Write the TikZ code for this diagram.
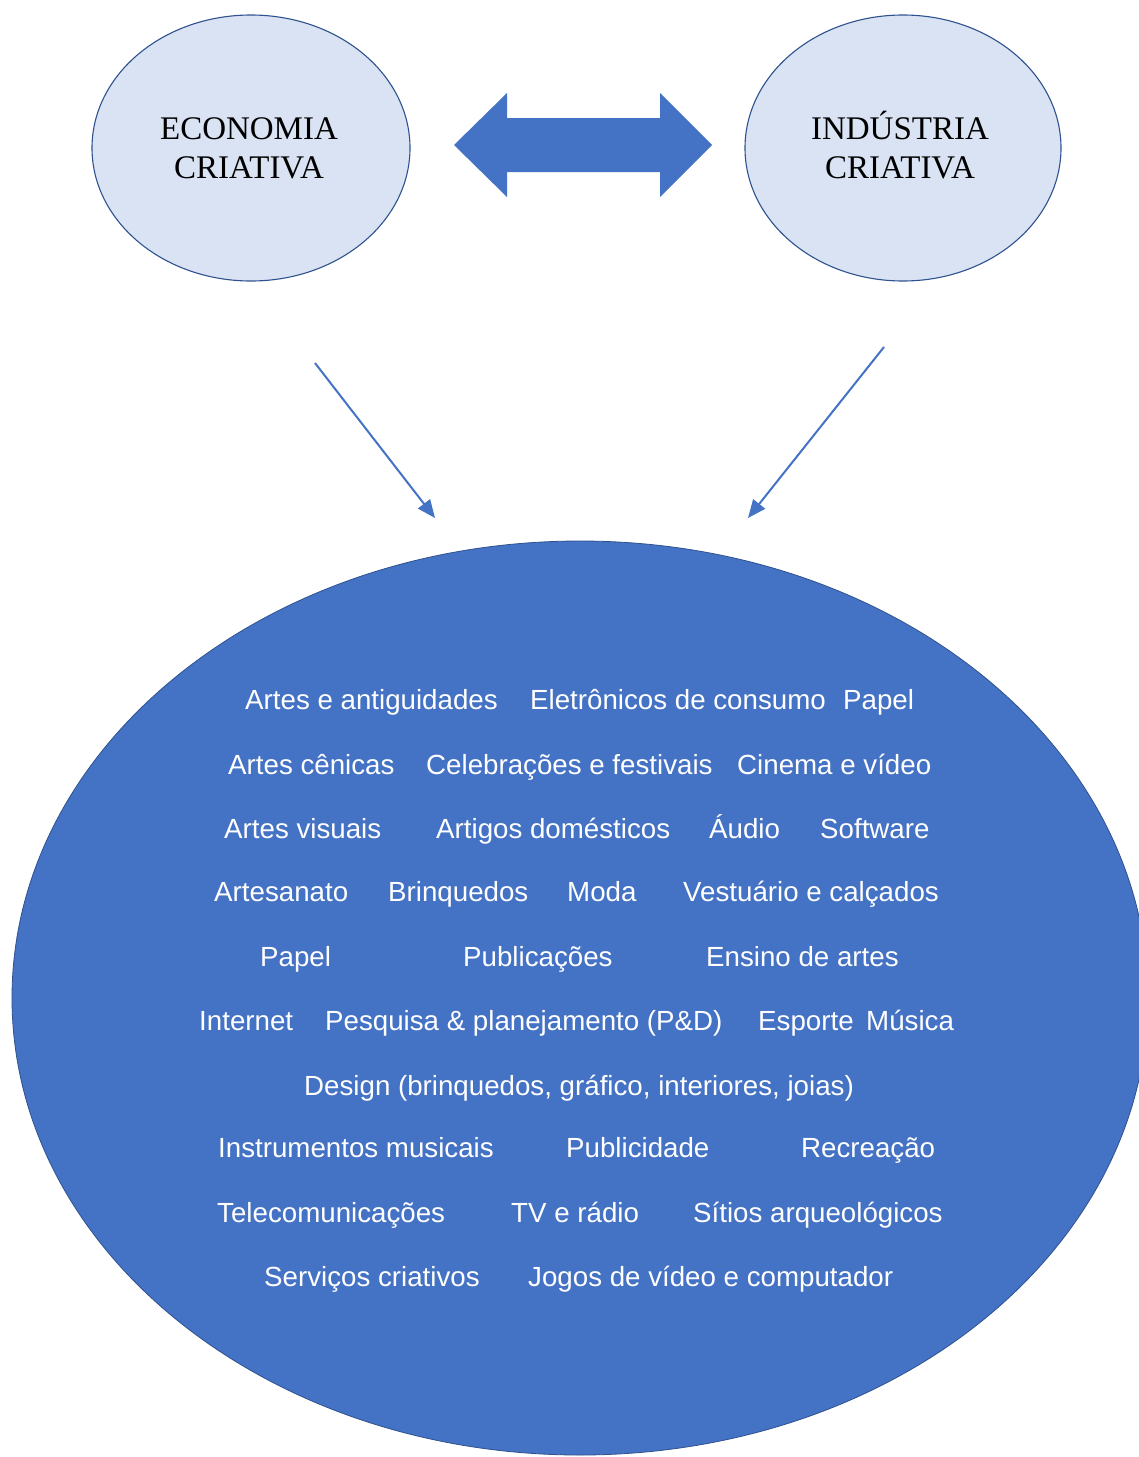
\documentclass[tikz,border=0pt]{standalone}
\usepackage{fontspec}
\setmainfont{Liberation Serif}
\newfontfamily\arialf{Liberation Sans}
\usetikzlibrary{arrows.meta}
\definecolor{accblue}{HTML}{4472C4}
\definecolor{darkblue}{HTML}{2F528F}
\definecolor{paleblue}{HTML}{DAE3F3}
\tikzset{
  smallell/.style={draw=darkblue, line width=1.1pt, fill=paleblue},
  toptext/.style={font=\fontsize{33}{39}\selectfont, align=center, text=black},
  item/.style={anchor=base west, inner sep=0pt, text=white, font=\arialf\fontsize{27.7}{32}\selectfont},
  thinarrow/.style={draw=accblue, line width=2pt, -{Triangle[length=18pt,width=15pt]}},
}
\begin{document}
\begin{tikzpicture}[x=1pt,y=-1pt]
\useasboundingbox (0,0) rectangle (1139,1457);
\clip (0,0) rectangle (1139,1457);
\fill[white] (0,0) rectangle (1139,1457);
% top ellipses
\draw[smallell] (251,148) ellipse [x radius=159, y radius=133];
\draw[smallell] (903,148) ellipse [x radius=158, y radius=133];
\node[toptext] (eco) at (249,145) {\vphantom{Ú}ECONOMIA\\CRIATIVA};
\node[toptext] (ind) at (900,145) {INDÚSTRIA\\CRIATIVA};
% double arrow
\fill[accblue] (454,145) -- (507,93) -- (507,118) -- (660,118) -- (660,93) -- (712,145)
  -- (660,197) -- (660,172) -- (507,172) -- (507,197) -- cycle;
% big ellipse
\draw[fill=accblue, draw=darkblue, line width=0.8pt] (580,998) ellipse [x radius=568, y radius=457];
% thin arrows
\coordinate (a1s) at (315,363);
\coordinate (a1e) at (435,518);
\coordinate (a2s) at (884,347);
\coordinate (a2e) at (748,518);
\draw[thinarrow] (a1s) -- (a1e);
\draw[thinarrow] (a2s) -- (a2e);
% items
\node[item] (r1a) at (245,709) {Artes e antiguidades};
\node[item] (r1b) at (530,709) {Eletrônicos de consumo};
\node[item] (r1c) at (843,709) {Papel};
\node[item] (r2a) at (228,774) {Artes cênicas};
\node[item] (r2b) at (426,774) {Celebrações e festivais};
\node[item] (r2c) at (737,774) {Cinema e vídeo};
\node[item] (r3a) at (224,838) {Artes visuais};
\node[item] (r3b) at (436,838) {Artigos domésticos};
\node[item] (r3c) at (709,838) {Áudio};
\node[item] (r3d) at (820,838) {Software};
\node[item] (r4a) at (214,901) {Artesanato};
\node[item] (r4b) at (388,901) {Brinquedos};
\node[item] (r4c) at (567,901) {Moda};
\node[item] (r4d) at (683,901) {Vestuário e calçados};
\node[item] (r5a) at (260,966) {Papel};
\node[item] (r5b) at (463,966) {Publicações};
\node[item] (r5c) at (706,966) {Ensino de artes};
\node[item] (r6a) at (199,1030) {Internet};
\node[item] (r6b) at (325,1030) {Pesquisa \& planejamento (P\&D)};
\node[item] (r6c) at (758,1030) {Esporte};
\node[item] (r6d) at (866,1030) {Música};
\node[item] (r7a) at (304,1095) {Design (brinquedos, gráfico, interiores, joias)};
\node[item] (r8a) at (218,1157) {Instrumentos musicais};
\node[item] (r8b) at (566,1157) {Publicidade};
\node[item] (r8c) at (801,1157) {Recreação};
\node[item] (r9a) at (217,1222) {Telecomunicações};
\node[item] (r9b) at (511,1222) {TV e rádio};
\node[item] (r9c) at (693,1222) {Sítios arqueológicos};
\node[item] (r10a) at (264,1286) {Serviços criativos};
\node[item] (r10b) at (528,1286) {Jogos de vídeo e computador};
\end{tikzpicture}
\end{document}
